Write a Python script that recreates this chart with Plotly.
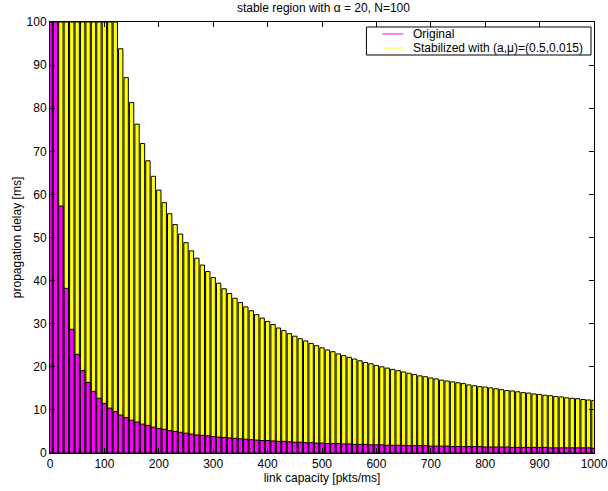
import plotly.graph_objects as go

capacity = list(range(0, 1001, 10))

stabilized = [
    100, 100, 100, 100, 100, 100, 100, 100, 100, 100, 100, 100, 100,
    93.8, 87.1, 81.3, 76.3, 71.8, 67.8, 64.2, 61.0, 58.1, 55.5, 53.0, 50.8, 48.8,
    46.9, 45.2, 43.6, 42.1, 40.7, 39.4, 38.1, 37.0, 35.9, 34.9, 33.9, 33.0, 32.1,
    31.3, 30.5, 29.8, 29.0, 28.4, 27.7, 27.1, 26.5, 26.0, 25.4, 24.9, 24.4, 23.9,
    23.5, 23.0, 22.6, 22.2, 21.8, 21.4, 21.0, 20.7, 20.3, 20.0, 19.7, 19.4, 19.1,
    18.8, 18.5, 18.2, 17.9, 17.7, 17.4, 17.2, 16.9, 16.7, 16.5, 16.3, 16.1, 15.8,
    15.6, 15.4, 15.3, 15.1, 14.9, 14.7, 14.5, 14.4, 14.2, 14.0, 13.9, 13.7, 13.6,
    13.4, 13.3, 13.1, 13.0, 12.8, 12.7, 12.6, 12.4, 12.3, 12.2,
]

original = [
    100, 100, 57.3, 38.2, 28.7, 22.9, 19.1, 16.4, 14.3, 12.7, 11.5, 10.4, 9.6,
    8.8, 8.2, 7.6, 7.2, 6.7, 6.4, 6.0, 5.7, 5.5, 5.2, 5.0, 4.8, 4.6,
    4.4, 4.2, 4.1, 4.0, 3.8, 3.7, 3.6, 3.5, 3.4, 3.3, 3.2, 3.1, 3.0,
    2.9, 2.9, 2.8, 2.7, 2.7, 2.6, 2.5, 2.5, 2.4, 2.4, 2.3, 2.3, 2.2,
    2.2, 2.2, 2.1, 2.1, 2.0, 2.0, 2.0, 1.9, 1.9, 1.9, 1.8, 1.8, 1.8,
    1.8, 1.7, 1.7, 1.7, 1.7, 1.6, 1.6, 1.6, 1.6, 1.5, 1.5, 1.5, 1.5,
    1.5, 1.5, 1.4, 1.4, 1.4, 1.4, 1.4, 1.3, 1.3, 1.3, 1.3, 1.3, 1.3,
    1.3, 1.2, 1.2, 1.2, 1.2, 1.2, 1.2, 1.2, 1.2, 1.1,
]

series_names = ["Original", "Stabilized with (a,\u03bc)=(0.5,0.015)"]
x_ticks = [0, 100, 200, 300, 400, 500, 600, 700, 800, 900, 1000]
y_ticks = [0, 10, 20, 30, 40, 50, 60, 70, 80, 90, 100]

MAGENTA = "#FF00FF"
YELLOW = "#FFFF00"
FONT = "Liberation Sans, Arial, Helvetica, sans-serif"
FS = 12

fig = go.Figure()
fig.add_trace(go.Bar(x=capacity, y=stabilized, width=8, name=series_names[1],
                     marker=dict(color=YELLOW, line=dict(color="black", width=1)),
                     showlegend=False))
fig.add_trace(go.Bar(x=capacity, y=original, width=8, name=series_names[0],
                     marker=dict(color=MAGENTA, line=dict(color="black", width=1)),
                     showlegend=False))

# MATLAB-style legend box drawn in paper coordinates
box = dict(x0=0.5817, x1=0.9945, y0=0.9234, y1=0.9884)
fig.add_shape(type="rect", xref="paper", yref="paper", line=dict(color="black", width=1),
              fillcolor="white", layer="above", **box)
rows_y = [0.9722, 0.9397]
for name, col, yy in zip(series_names, [MAGENTA, YELLOW], rows_y):
    fig.add_shape(type="line", xref="paper", yref="paper", x0=0.611, x1=0.6495,
                  y0=yy, y1=yy, line=dict(color=col, width=1), layer="above")
    fig.add_annotation(xref="paper", yref="paper", x=0.664, y=yy, text=name,
                       showarrow=False, xanchor="left", yanchor="middle",
                       font=dict(size=FS, family=FONT, color="black"))

axis_common = dict(showline=True, linecolor="black", linewidth=1, mirror="ticks",
                   ticks="inside", ticklen=5, tickcolor="black", showgrid=False,
                   zeroline=False, automargin=False,
                   tickfont=dict(size=FS, color="black", family=FONT))

fig.update_layout(
    width=608, height=491,
    margin=dict(l=50, r=14, t=22, b=38),
    paper_bgcolor="white", plot_bgcolor="white",
    barmode="overlay", showlegend=False,
    font=dict(family=FONT, size=FS, color="black"),
    title=dict(text="stable region with \u03b1 = 20, N=100", x=0.532, xanchor="center",
               y=1 - 8 / 491, yanchor="middle", font=dict(size=FS, family=FONT)),
    xaxis=dict(range=[0, 1000], tickvals=x_ticks,
               title=dict(text="link capacity [pkts/ms]", standoff=0, font=dict(size=FS)),
               **axis_common),
    yaxis=dict(range=[0, 100], tickvals=y_ticks,
               title=dict(text="propagation delay [ms]", standoff=2, font=dict(size=FS)),
               **axis_common),
)

fig.write_html("out.html", config={"displayModeBar": False},
               post_script="document.body.style.margin='0px';")
